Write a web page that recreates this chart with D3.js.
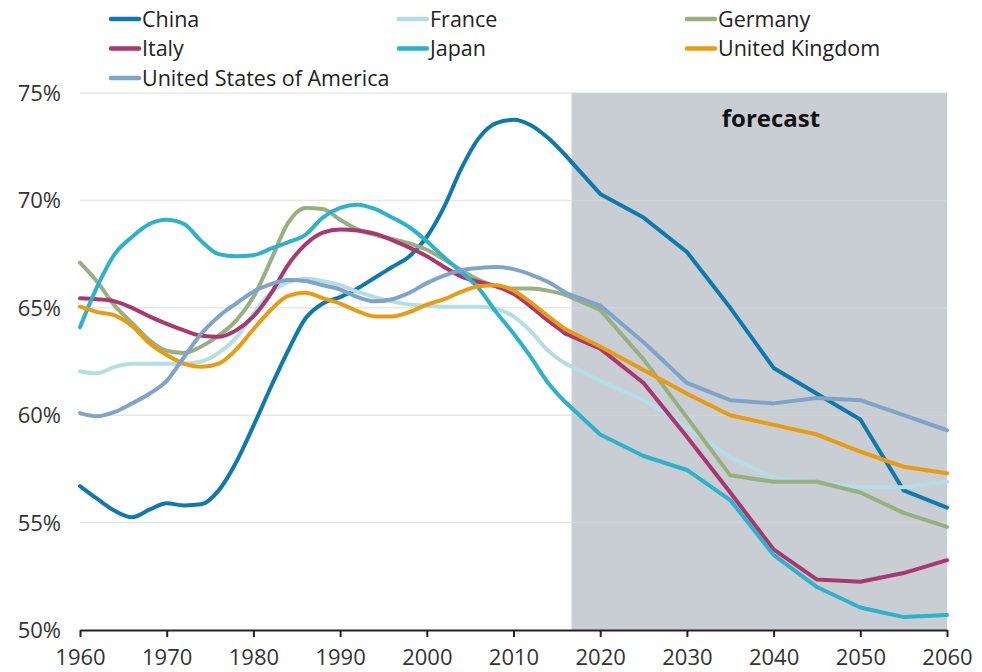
<!DOCTYPE html>
<html>
<head>
<meta charset="utf-8">
<script src="https://cdn.jsdelivr.net/npm/d3@7"></script>
<style>
  body { margin: 0; background: #ffffff; }
  svg { display: block; font-family: "Open Sans", "DejaVu Sans", sans-serif; }
</style>
</head>
<body>
<svg id="chart" width="982" height="672"></svg>
<script>
// Working-age population share (% of total), history and projection
const countries = ["China", "France", "Germany", "Italy", "Japan", "United Kingdom", "United States of America"];
const colors = ["#0f79ad", "#b5dde4", "#98b07f", "#a8386f", "#2eb2c9", "#e99b14", "#7ea4c9"];

const histYears = [1960, 1962, 1964, 1966, 1968, 1970, 1972, 1974, 1976, 1978,
                   1980, 1982, 1984, 1986, 1988, 1990, 1992, 1994, 1996, 1998,
                   2000, 2002, 2004, 2006, 2008, 2010, 2012, 2014, 2016];
const forecastYears = [2020, 2025, 2030, 2035, 2040, 2045, 2050, 2055, 2060];

const chinaHist = [56.7, 56.1, 55.55, 55.25, 55.6, 55.9, 55.8, 55.85, 56.5, 57.8,
                   59.5, 61.3, 63.0, 64.5, 65.2, 65.5, 65.9, 66.4, 66.9, 67.4,
                   68.3, 69.7, 71.5, 72.9, 73.6, 73.75, 73.5, 72.9, 72.1];
const chinaForecast = [70.3, 69.2, 67.6, 65.0, 62.2, 61.0, 59.8, 56.5, 55.7];

const franceHist = [62.05, 61.95, 62.25, 62.4, 62.4, 62.4, 62.4, 62.5, 62.9, 63.6,
                    64.7, 65.7, 66.2, 66.35, 66.25, 66.05, 65.75, 65.5, 65.3, 65.15,
                    65.1, 65.05, 65.05, 65.05, 64.95, 64.6, 63.9, 63.0, 62.4];
const franceForecast = [61.6, 60.7, 59.45, 58.05, 57.1, 56.85, 56.65, 56.65, 56.9];

const germanyHist = [67.1, 66.2, 65.1, 64.3, 63.5, 63.0, 62.9, 63.2, 63.7, 64.4,
                     65.5, 67.2, 68.95, 69.65, 69.6, 69.1, 68.65, 68.4, 68.2, 68.0,
                     67.7, 67.25, 66.75, 66.3, 66.0, 65.9, 65.9, 65.8, 65.6];
const germanyForecast = [64.9, 62.6, 59.9, 57.2, 56.9, 56.9, 56.4, 55.45, 54.8];

const italyHist = [65.45, 65.4, 65.3, 65.0, 64.6, 64.25, 63.95, 63.7, 63.65, 63.95,
                   64.6, 65.65, 67.0, 67.95, 68.5, 68.65, 68.6, 68.45, 68.15, 67.8,
                   67.4, 66.9, 66.45, 66.2, 66.0, 65.65, 65.05, 64.4, 63.8];
const italyForecast = [63.1, 61.5, 59.0, 56.4, 53.75, 52.35, 52.25, 52.65, 53.25];

const japanHist = [64.1, 66.0, 67.5, 68.3, 68.9, 69.1, 68.9, 68.1, 67.5, 67.4,
                   67.45, 67.75, 68.05, 68.4, 69.2, 69.65, 69.8, 69.6, 69.2, 68.75,
                   68.1, 67.35, 66.65, 65.9, 64.8, 63.8, 62.7, 61.5, 60.6];
const japanForecast = [59.1, 58.1, 57.45, 56.05, 53.5, 52.0, 51.05, 50.6, 50.7];

const ukHist = [65.05, 64.8, 64.65, 64.15, 63.35, 62.8, 62.4, 62.25, 62.4, 63.05,
                64.0, 64.9, 65.55, 65.7, 65.45, 65.2, 64.85, 64.6, 64.6, 64.8,
                65.15, 65.4, 65.75, 66.0, 66.05, 65.8, 65.25, 64.6, 64.0];
const ukForecast = [63.2, 62.1, 61.0, 60.0, 59.55, 59.1, 58.3, 57.6, 57.3];

const usaHist = [60.1, 59.95, 60.15, 60.55, 61.0, 61.6, 62.7, 63.8, 64.6, 65.2,
                 65.75, 66.1, 66.3, 66.25, 66.05, 65.85, 65.5, 65.3, 65.4, 65.7,
                 66.15, 66.5, 66.75, 66.85, 66.9, 66.8, 66.55, 66.2, 65.7];
const usaForecast = [65.1, 63.4, 61.5, 60.7, 60.55, 60.8, 60.7, 60.0, 59.3];

const histSeries = [chinaHist, franceHist, germanyHist, italyHist, japanHist, ukHist, usaHist];
const forecastSeries = [chinaForecast, franceForecast, germanyForecast, italyForecast, japanForecast, ukForecast, usaForecast];

const xTicks = [1960, 1970, 1980, 1990, 2000, 2010, 2020, 2030, 2040, 2050, 2060];
const yTicks = [50, 55, 60, 65, 70, 75];
const forecastStart = 2016.7;
const forecastLabel = "forecast";

// ---- layout ----
const svg = d3.select("#chart");
const x = d3.scaleLinear().domain([1960, 2060]).range([80, 947]);
const y = d3.scaleLinear().domain([50, 75]).range([630, 93]);

// shaded projection period
svg.append("rect")
  .attr("x", x(forecastStart))
  .attr("y", y(75))
  .attr("width", x(2060) - x(forecastStart))
  .attr("height", y(50) - y(75))
  .attr("fill", "#c9cdd4");

// horizontal gridlines
svg.append("g").selectAll("line")
  .data(yTicks.filter(d => d > 50))
  .join("line")
  .attr("x1", x(1960)).attr("x2", x(2060))
  .attr("y1", d => y(d)).attr("y2", d => y(d))
  .attr("stroke", "rgba(215,215,215,0.6)")
  .attr("stroke-width", 1.5);

// y labels
svg.append("g").selectAll("text")
  .data(yTicks)
  .join("text")
  .attr("x", 61)
  .attr("y", d => y(d))
  .attr("dy", "0.36em")
  .attr("text-anchor", "end")
  .attr("font-size", 22)
  .attr("fill", "#333")
  .text(d => d + "%");

// x axis
const xAxis = svg.append("g")
  .attr("transform", `translate(0,${y(50)})`)
  .call(d3.axisBottom(x).tickValues(xTicks).tickFormat(d3.format("d")).tickSize(7).tickSizeOuter(0));
xAxis.select(".domain").attr("stroke", "#222").attr("stroke-width", 2);
xAxis.selectAll(".tick line").attr("stroke", "#222").attr("stroke-width", 2);
xAxis.selectAll(".tick text")
  .attr("font-size", 22)
  .attr("font-family", "\"Open Sans\", sans-serif")
  .attr("fill", "#333")
  .attr("y", 19)
  .attr("dy", "0.71em");

// lines
const histLine = d3.line().x(d => x(d[0])).y(d => y(d[1])).curve(d3.curveMonotoneX);
const fcLine = d3.line().x(d => x(d[0])).y(d => y(d[1]));

const linesG = svg.append("g").attr("fill", "none").attr("stroke-linejoin", "round").attr("stroke-linecap", "round");
countries.forEach((c, i) => {
  const h = histYears.map((yr, k) => [yr, histSeries[i][k]]);
  const f = [h[h.length - 1]].concat(forecastYears.map((yr, k) => [yr, forecastSeries[i][k]]));
  linesG.append("path").attr("d", histLine(h)).attr("stroke", colors[i]).attr("stroke-width", 4);
  linesG.append("path").attr("d", fcLine(f)).attr("stroke", colors[i]).attr("stroke-width", 4);
});

// projection label
svg.append("text")
  .attr("x", x(2039.7))
  .attr("y", 127)
  .attr("text-anchor", "middle")
  .attr("font-size", 24)
  .attr("font-weight", 700)
  .attr("fill", "#111")
  .text(forecastLabel);

// legend: three columns
const legend = svg.append("g");
countries.forEach((c, i) => {
  const col = i % 3, row = Math.floor(i / 3);
  const lx = 111 + col * 288, ly = 19 + row * 29.5;
  legend.append("line")
    .attr("x1", lx).attr("x2", lx + 28)
    .attr("y1", ly).attr("y2", ly)
    .attr("stroke", colors[i]).attr("stroke-width", 4.5).attr("stroke-linecap", "round");
  legend.append("text")
    .attr("x", lx + 31).attr("y", ly)
    .attr("dy", "0.36em")
    .attr("font-size", 21.5)
    .attr("fill", "#222")
    .text(c);
});
</script>
</body>
</html>
